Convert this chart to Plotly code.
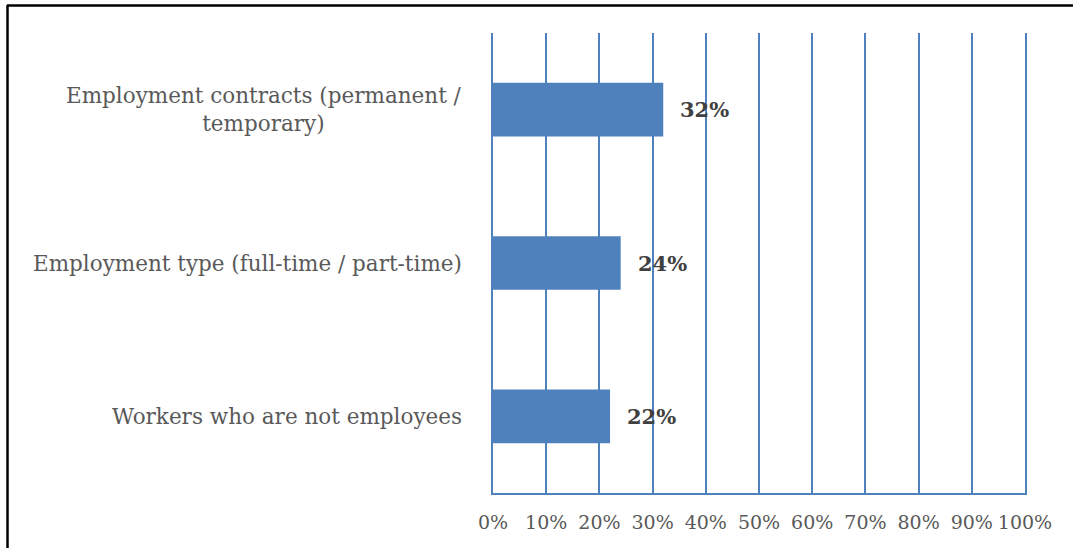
import plotly.graph_objects as go

categories = [
    "Employment contracts (permanent /<br>temporary)",
    "Employment type (full-time / part-time)",
    "Workers who are not employees",
]
values = [0.32, 0.24, 0.22]
label_texts = ["32%", "24%", "22%"]

BLUE = "#4F81BD"
GRAY = "#595959"
DARK = "#404040"
FONT = "DejaVu Serif"

W, H = 1073, 548
ML, MR, MT, MB = 493, 48, 33, 55
pw = W - ML - MR
ph = H - MT - MB

fig = go.Figure(
    go.Bar(
        x=values,
        y=categories,
        orientation="h",
        marker=dict(color=BLUE, line=dict(width=0)),
        hoverinfo="skip",
    )
)

annotations = []
for c in categories:
    annotations.append(dict(
        x=0, xref="paper", y=c, yref="y", text=c, showarrow=False,
        xanchor="right", yanchor="middle", align="center", xshift=-29,
        font=dict(family=FONT, size=21.5, color=GRAY),
    ))
for c, v, t in zip(categories, values, label_texts):
    annotations.append(dict(
        x=v, xref="x", y=c, yref="y", text="<b>%s</b>" % t, showarrow=False,
        xanchor="left", yanchor="middle", xshift=15,
        font=dict(family=FONT, size=21, color=DARK),
    ))

def px_x(p):
    return (p - ML) / pw

def px_y(p):
    return (H - MB - p) / ph

shapes = [
    dict(type="line", xref="paper", yref="paper", x0=px_x(7.5), x1=px_x(7.5),
         y0=px_y(5), y1=px_y(560), line=dict(color="black", width=2.5)),
    dict(type="line", xref="paper", yref="paper", x0=px_x(7), x1=px_x(1080),
         y0=px_y(5.5), y1=px_y(5.5), line=dict(color="black", width=2.5)),
]

fig.update_layout(
    width=W, height=H,
    margin=dict(l=ML, r=MR, t=MT, b=MB, pad=0),
    paper_bgcolor="white", plot_bgcolor="white",
    showlegend=False,
    bargap=0.65,
    annotations=annotations,
    shapes=shapes,
    xaxis=dict(
        range=[0, 1], dtick=0.1, tick0=0, tickformat=".0%",
        showgrid=True, gridcolor=BLUE, gridwidth=2,
        showline=True, linecolor=BLUE, linewidth=2,
        zeroline=False, ticks="", ticklabelstandoff=11,
        tickfont=dict(family=FONT, size=19, color=GRAY),
        fixedrange=True,
    ),
    yaxis=dict(
        categoryorder="array", categoryarray=categories[::-1],
        showticklabels=False, showgrid=False, zeroline=False,
        showline=True, linecolor=BLUE, linewidth=2, mirror=True,
        ticks="", fixedrange=True,
    ),
)

fig.write_html(
    "out.html",
    config={"displayModeBar": False, "staticPlot": True},
    post_script="document.body.style.margin='0';document.body.style.padding='0';",
)
